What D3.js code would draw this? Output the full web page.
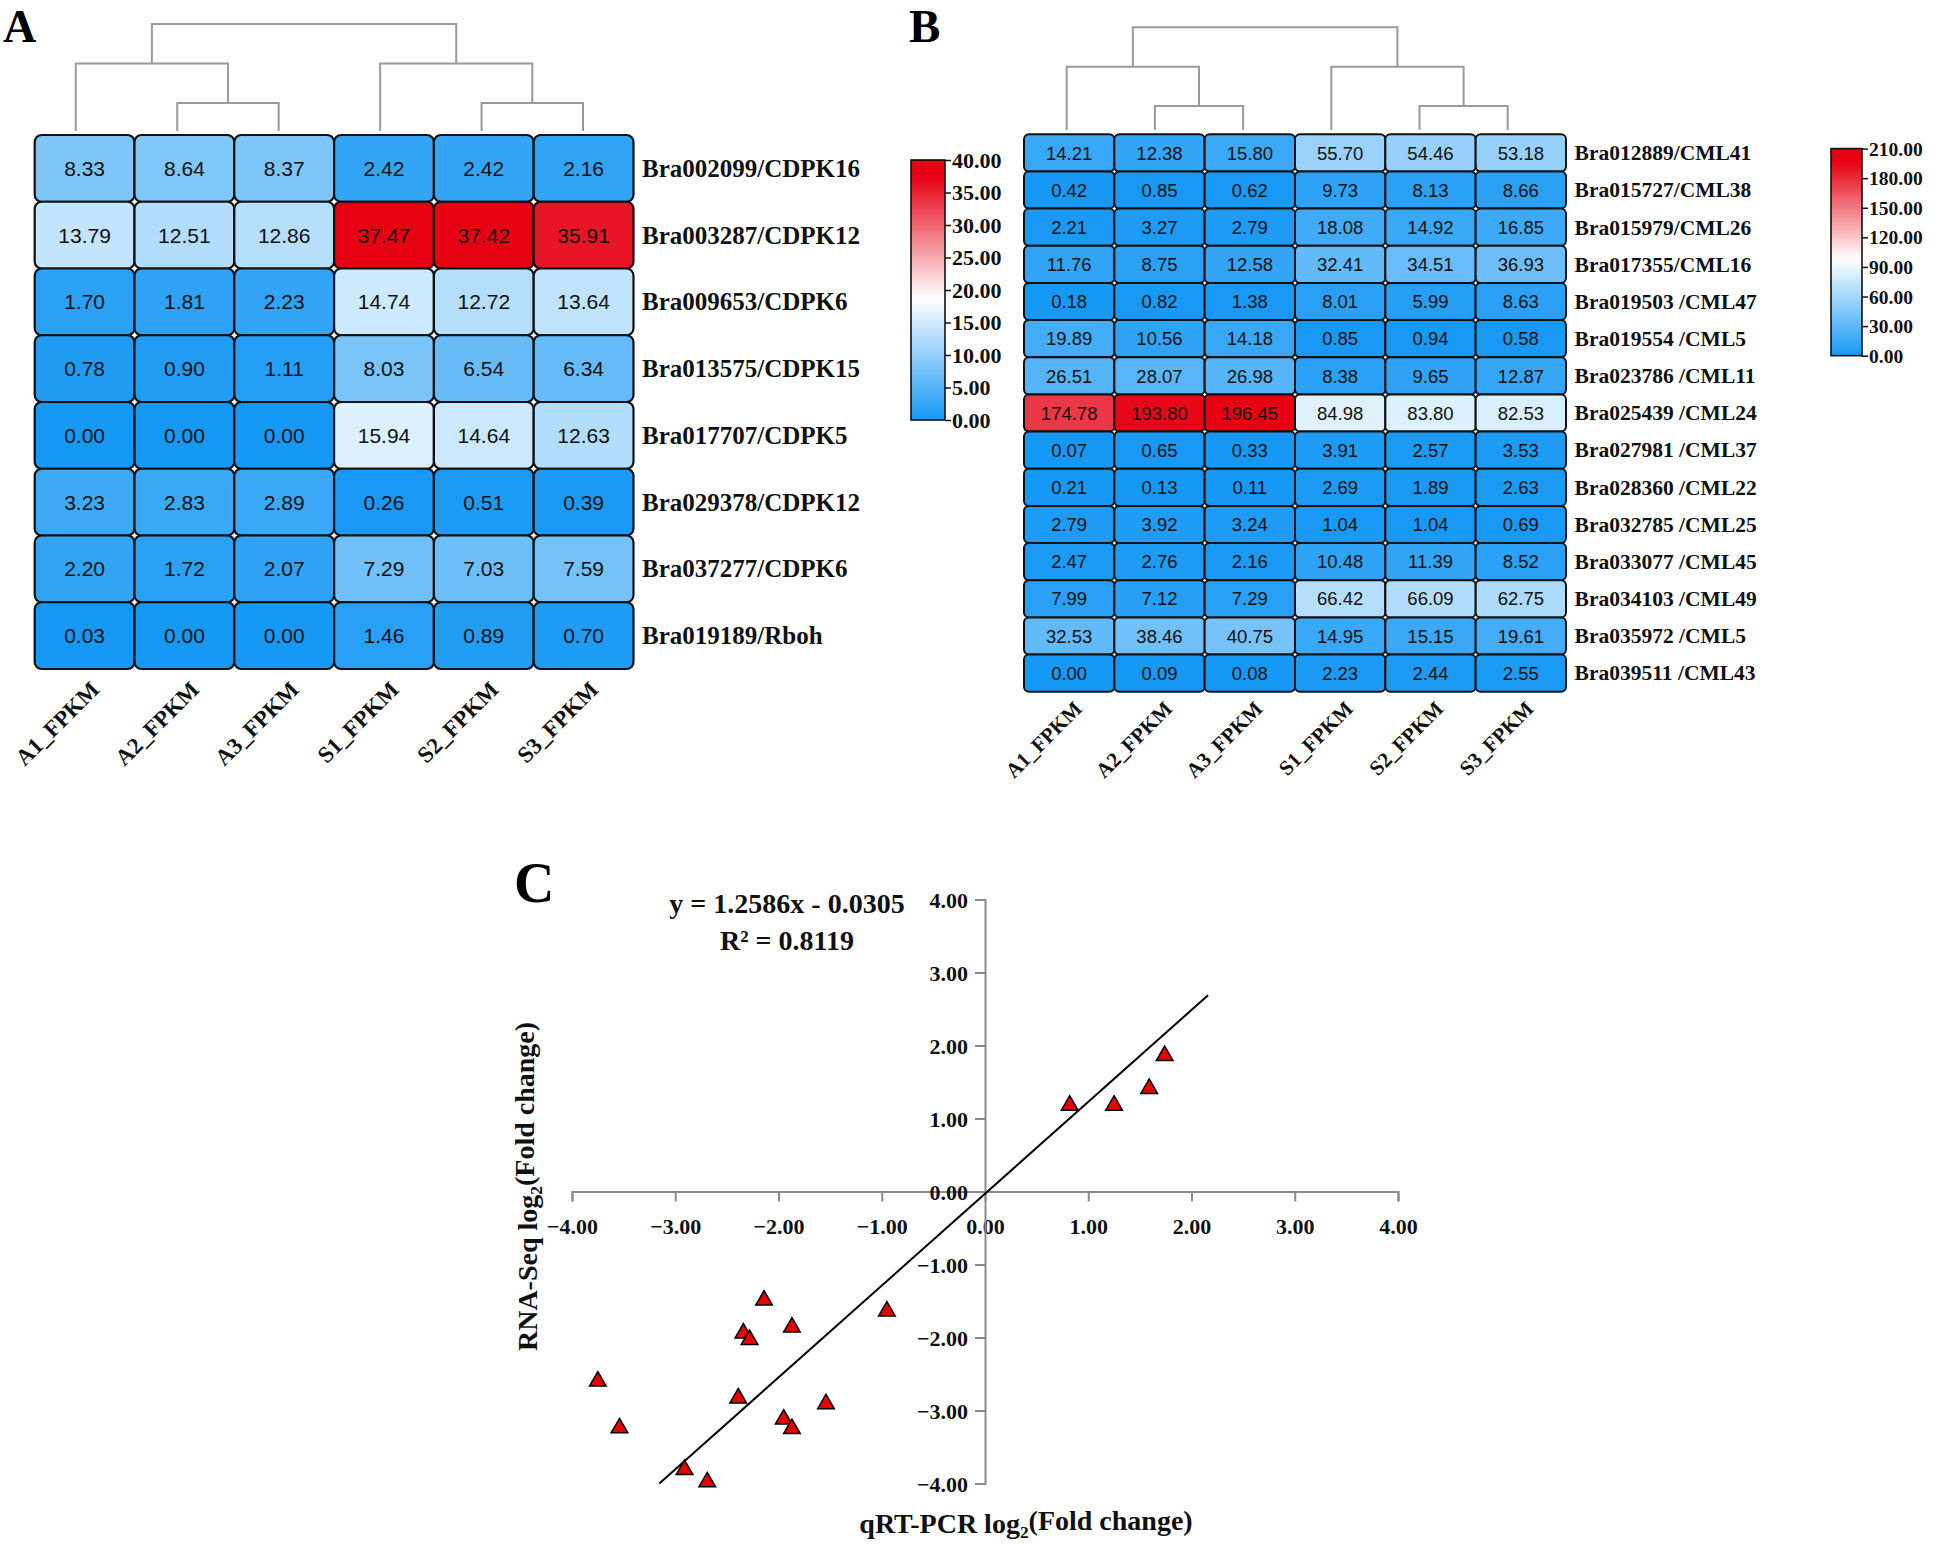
<!DOCTYPE html>
<html>
<head>
<meta charset="utf-8">
<script src="https://cdn.jsdelivr.net/npm/d3@7"></script>
<style>
  html, body { margin: 0; padding: 0; background: #fff; }
  svg { display: block; }
</style>
</head>
<body>
<svg id="chart" width="1944" height="1544"></svg>
<script>
// ---------------- DATA ----------------
const samples = ["A1_FPKM", "A2_FPKM", "A3_FPKM", "S1_FPKM", "S2_FPKM", "S3_FPKM"];

const genesA = ["Bra002099/CDPK16", "Bra003287/CDPK12", "Bra009653/CDPK6", "Bra013575/CDPK15",
  "Bra017707/CDPK5", "Bra029378/CDPK12", "Bra037277/CDPK6", "Bra019189/Rboh"];
const valuesA = [
  [8.33, 8.64, 8.37, 2.42, 2.42, 2.16],
  [13.79, 12.51, 12.86, 37.47, 37.42, 35.91],
  [1.70, 1.81, 2.23, 14.74, 12.72, 13.64],
  [0.78, 0.90, 1.11, 8.03, 6.54, 6.34],
  [0.00, 0.00, 0.00, 15.94, 14.64, 12.63],
  [3.23, 2.83, 2.89, 0.26, 0.51, 0.39],
  [2.20, 1.72, 2.07, 7.29, 7.03, 7.59],
  [0.03, 0.00, 0.00, 1.46, 0.89, 0.70]
];
const legendTicksA = [0, 5, 10, 15, 20, 25, 30, 35, 40];

const genesB = ["Bra012889/CML41", "Bra015727/CML38", "Bra015979/CML26", "Bra017355/CML16",
  "Bra019503 /CML47", "Bra019554 /CML5", "Bra023786 /CML11", "Bra025439 /CML24",
  "Bra027981 /CML37", "Bra028360 /CML22", "Bra032785 /CML25", "Bra033077 /CML45",
  "Bra034103 /CML49", "Bra035972 /CML5", "Bra039511 /CML43"];
const valuesB = [
  [14.21, 12.38, 15.80, 55.70, 54.46, 53.18],
  [0.42, 0.85, 0.62, 9.73, 8.13, 8.66],
  [2.21, 3.27, 2.79, 18.08, 14.92, 16.85],
  [11.76, 8.75, 12.58, 32.41, 34.51, 36.93],
  [0.18, 0.82, 1.38, 8.01, 5.99, 8.63],
  [19.89, 10.56, 14.18, 0.85, 0.94, 0.58],
  [26.51, 28.07, 26.98, 8.38, 9.65, 12.87],
  [174.78, 193.80, 196.45, 84.98, 83.80, 82.53],
  [0.07, 0.65, 0.33, 3.91, 2.57, 3.53],
  [0.21, 0.13, 0.11, 2.69, 1.89, 2.63],
  [2.79, 3.92, 3.24, 1.04, 1.04, 0.69],
  [2.47, 2.76, 2.16, 10.48, 11.39, 8.52],
  [7.99, 7.12, 7.29, 66.42, 66.09, 62.75],
  [32.53, 38.46, 40.75, 14.95, 15.15, 19.61],
  [0.00, 0.09, 0.08, 2.23, 2.44, 2.55]
];
const legendTicksB = [0, 30, 60, 90, 120, 150, 180, 210];

// column clustering (same topology in both heatmaps)
const dendrogram = { children: [
  { children: ["A1_FPKM", { children: ["A2_FPKM", "A3_FPKM"] }] },
  { children: ["S1_FPKM", { children: ["S2_FPKM", "S3_FPKM"] }] }
]};

// qRT-PCR vs RNA-Seq (log2 fold change)
const qpcr   = [-3.75, -3.54, -2.91, -2.69, -2.14, -2.34, -2.28, -1.87, -2.39, -1.95, -1.87, -1.54, -0.95, 0.82, 1.25, 1.59, 1.74];
const rnaseq = [-2.60, -3.24, -3.81, -3.98, -1.49, -1.94, -2.03, -1.86, -2.83, -3.12, -3.25, -2.91, -1.64, 1.18, 1.18, 1.41, 1.86];
const fitSlope = 1.2586, fitIntercept = -0.0305;
const fitRange = [-3.154, 2.16];
const axisTicksC = [-4, -3, -2, -1, 0, 1, 2, 3, 4];

// ---------------- DRAW ----------------
const svg = d3.select("#chart");
const SERIF = "'Liberation Serif', 'Times New Roman', serif";
const SANS = "'Liberation Sans', Arial, sans-serif";
const BLUE = "#1698f5", WHITE = "#ffffff", RED = "#e60012";

function colorScale(values) {
  const max = d3.max(values.flat());
  return d3.scaleLinear().domain([0, max / 2, max]).range([BLUE, WHITE, RED]).clamp(true);
}

function drawDendro(g, node, xLeaf, yLevel, leafY) {
  function rec(n) {
    if (typeof n === "string") return { x: xLeaf(n), y: leafY, h: 0 };
    const kids = n.children.map(rec);
    const h = 1 + d3.max(kids, k => k.h);
    const y = yLevel(h);
    const x1 = kids[0].x, x2 = kids[kids.length - 1].x;
    g.append("path")
      .attr("d", `M${x1},${kids[0].y}V${y}H${x2}V${kids[kids.length - 1].y}`)
      .attr("fill", "none").attr("stroke", "#9a9a9a").attr("stroke-width", 2);
    return { x: (x1 + x2) / 2, y, h };
  }
  rec(node);
}

function heatmap(cfg) {
  const g = svg.append("g");
  const color = colorScale(cfg.values);
  const x = d3.scaleBand().domain(samples).range(cfg.xRange).padding(0);
  const y = d3.scaleBand().domain(cfg.genes).range(cfg.yRange).padding(0);

  const xLeaf = d3.scalePoint().domain(samples).range(cfg.leafRange);
  const yLevel = d3.scaleLinear().domain([1, 3]).range(cfg.levelRange);
  drawDendro(g, dendrogram, xLeaf, yLevel, cfg.leafY);

  const cells = [];
  cfg.genes.forEach((gene, i) => samples.forEach((s, j) => cells.push({ gene, s, v: cfg.values[i][j] })));

  g.selectAll("rect.cell").data(cells).join("rect")
    .attr("class", "cell")
    .attr("x", d => x(d.s)).attr("y", d => y(d.gene))
    .attr("width", x.bandwidth()).attr("height", y.bandwidth())
    .attr("rx", cfg.rx).attr("ry", cfg.rx)
    .attr("fill", d => color(d.v))
    .attr("stroke", "#111").attr("stroke-width", cfg.strokeW);

  g.selectAll("text.val").data(cells).join("text")
    .attr("class", "val")
    .attr("x", d => x(d.s) + x.bandwidth() / 2)
    .attr("y", d => y(d.gene) + y.bandwidth() / 2)
    .attr("dy", "0.36em")
    .attr("text-anchor", "middle")
    .attr("font-family", SANS).attr("font-size", cfg.valSize).attr("fill", "#111")
    .text(d => d.v.toFixed(2));

  g.selectAll("text.row").data(cfg.genes).join("text")
    .attr("class", "row")
    .attr("x", cfg.rowLabelX)
    .attr("y", d => y(d) + y.bandwidth() / 2)
    .attr("dy", "0.34em")
    .attr("font-family", SERIF).attr("font-weight", "bold").attr("font-size", cfg.rowSize)
    .attr("fill", "#111")
    .text(d => d);

  g.selectAll("text.col").data(samples).join("text")
    .attr("class", "col")
    .attr("transform", d => `translate(${x(d) + x.bandwidth() / 2 + cfg.colDx},${cfg.colY}) rotate(-45)`)
    .attr("text-anchor", "end")
    .attr("font-family", SERIF).attr("font-weight", "bold").attr("font-size", cfg.colSize)
    .attr("fill", "#111")
    .text(d => d);

  // legend
  const lg = svg.append("g");
  const ly = d3.scaleLinear().domain([cfg.legendTicks[0], cfg.legendTicks[cfg.legendTicks.length - 1]])
    .range([cfg.legend.y1, cfg.legend.y0]);
  const gid = "grad" + cfg.id;
  const grad = svg.append("defs").append("linearGradient").attr("id", gid)
    .attr("x1", 0).attr("y1", 1).attr("x2", 0).attr("y2", 0);
  const [lmin, lmax] = ly.domain();
  d3.range(0, 41).forEach(k => {
    const v = lmin + (lmax - lmin) * k / 40;
    grad.append("stop").attr("offset", (k / 40 * 100) + "%").attr("stop-color", color(v));
  });
  lg.append("rect")
    .attr("x", cfg.legend.x).attr("y", cfg.legend.y0)
    .attr("width", cfg.legend.w).attr("height", cfg.legend.y1 - cfg.legend.y0)
    .attr("fill", `url(#${gid})`).attr("stroke", "#111").attr("stroke-width", 1.6);
  const ax = lg.append("g")
    .attr("transform", `translate(${cfg.legend.x + cfg.legend.w},0)`)
    .call(d3.axisRight(ly).tickValues(cfg.legendTicks).tickFormat(d3.format(".2f")).tickSize(6).tickPadding(1));
  ax.select(".domain").remove();
  ax.selectAll(".tick line").attr("stroke", "#111").attr("stroke-width", 1.5);
  ax.selectAll(".tick text")
    .attr("font-family", SERIF).attr("font-weight", "bold").attr("font-size", cfg.legendSize)
    .attr("fill", "#111").attr("dy", "0.34em");
}

heatmap({
  id: "A", genes: genesA, values: valuesA,
  xRange: [34.7, 633.5], yRange: [135, 669],
  leafRange: [75.8, 583], levelRange: [103, 24], leafY: 131,
  rx: 7, strokeW: 2.2, valSize: 21, rowSize: 25, rowLabelX: 642,
  colDx: 16, colY: 691, colSize: 23,
  legendTicks: legendTicksA, legendSize: 22,
  legend: { x: 911, w: 34, y0: 160, y1: 420 }
});

heatmap({
  id: "B", genes: genesB, values: valuesB,
  xRange: [1024, 1566], yRange: [134.3, 691.7],
  leafRange: [1066.7, 1507.7], levelRange: [106, 27.3], leafY: 130,
  rx: 5, strokeW: 2, valSize: 18.5, rowSize: 21.5, rowLabelX: 1574.6,
  colDx: 14, colY: 710, colSize: 21,
  legendTicks: legendTicksB, legendSize: 19.5,
  legend: { x: 1831, w: 31, y0: 148.6, y1: 355.7 }
});

// panel letters
const letters = [{ t: "A", x: 3, y: 42, s: 46 }, { t: "B", x: 909, y: 42, s: 47 }, { t: "C", x: 514, y: 902, s: 56 }];
svg.selectAll("text.letter").data(letters).join("text")
  .attr("class", "letter")
  .attr("x", d => d.x).attr("y", d => d.y)
  .attr("font-family", SERIF).attr("font-weight", "bold").attr("font-size", d => d.s)
  .attr("fill", "#000").text(d => d.t);

// ---------------- Panel C ----------------
const gc = svg.append("g");
const xs = d3.scaleLinear().domain([-4, 4]).range([572, 1398]);
const ys = d3.scaleLinear().domain([-4, 4]).range([1483.5, 899.5]);
const AXC = "#8a8a8a";

const xAxis = gc.append("g").attr("transform", `translate(0,${ys(0)})`)
  .call(d3.axisBottom(xs).tickValues(axisTicksC).tickFormat(d3.format(".2f")).tickSizeOuter(0).tickSize(10));
const yAxis = gc.append("g").attr("transform", `translate(${xs(0)},0)`)
  .call(d3.axisLeft(ys).tickValues(axisTicksC).tickFormat(d3.format(".2f")).tickSizeOuter(0).tickSize(10));
[xAxis, yAxis].forEach(a => {
  a.select(".domain").attr("stroke", AXC).attr("stroke-width", 2);
  a.selectAll(".tick line").attr("stroke", AXC).attr("stroke-width", 2);
  a.selectAll(".tick text").attr("font-family", SERIF).attr("font-weight", "bold")
    .attr("font-size", 22).attr("fill", "#111");
});
xAxis.selectAll(".tick text").attr("y", 42).attr("dy", 0);
yAxis.selectAll(".tick text").attr("x", -17).attr("dy", "0.36em");

// regression line
gc.append("line")
  .attr("x1", xs(fitRange[0])).attr("y1", ys(fitSlope * fitRange[0] + fitIntercept))
  .attr("x2", xs(fitRange[1])).attr("y2", ys(fitSlope * fitRange[1] + fitIntercept))
  .attr("stroke", "#000").attr("stroke-width", 2);

// points
const pts = qpcr.map((q, i) => ({ x: q, y: rnaseq[i] }));
gc.selectAll("path.pt").data(pts).join("path")
  .attr("class", "pt")
  .attr("transform", d => `translate(${xs(d.x)},${ys(d.y)})`)
  .attr("d", d3.symbol(d3.symbolTriangle, 120))
  .attr("fill", "#e60000").attr("stroke", "#000").attr("stroke-width", 1.5);

// equation
gc.append("text").attr("x", 787).attr("y", 913).attr("text-anchor", "middle")
  .attr("font-family", SERIF).attr("font-weight", "bold").attr("font-size", 28).attr("fill", "#111")
  .text("y = 1.2586x - 0.0305");
gc.append("text").attr("x", 787).attr("y", 950).attr("text-anchor", "middle")
  .attr("font-family", SERIF).attr("font-weight", "bold").attr("font-size", 28).attr("fill", "#111")
  .text("R² = 0.8119");

// axis titles
function logTitle(sel, prefix) {
  sel.append("tspan").text(prefix + " log");
  sel.append("tspan").attr("font-size", "0.62em").attr("dy", "0.3em").text("2");
  sel.append("tspan").attr("dy", "-0.3em").text("(Fold change)");
}
const xt = gc.append("text").attr("x", 1026).attr("y", 1533).attr("text-anchor", "middle")
  .attr("font-family", SERIF).attr("font-weight", "bold").attr("font-size", 28).attr("fill", "#111");
logTitle(xt, "qRT-PCR");
const yt = gc.append("text").attr("transform", "translate(537,1186.5) rotate(-90)").attr("text-anchor", "middle")
  .attr("font-family", SERIF).attr("font-weight", "bold").attr("font-size", 28).attr("fill", "#111");
logTitle(yt, "RNA-Seq");
</script>
</body>
</html>
